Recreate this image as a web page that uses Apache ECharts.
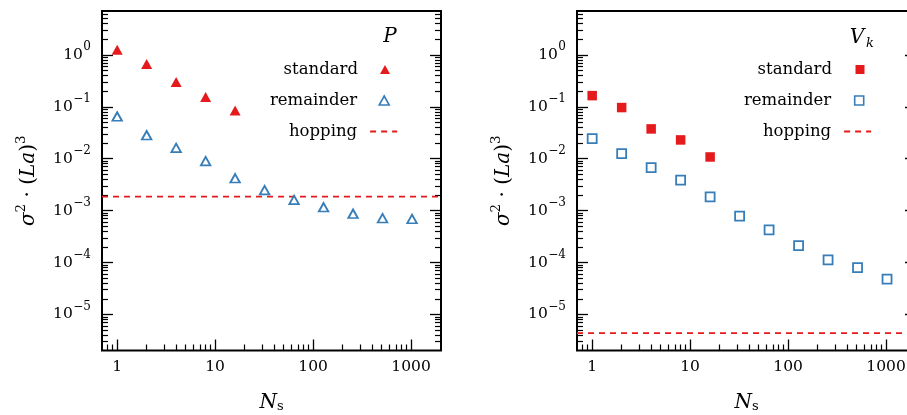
<!DOCTYPE html>
<html><head><meta charset="utf-8">
<script src="https://cdn.jsdelivr.net/npm/echarts@6/dist/echarts.min.js"></script>
<style>html,body{margin:0;padding:0;background:#fff}#c{width:907px;height:415px}</style>
</head><body><div id="c"></div>
<script>
// ---- data ----
const nsStandard = [1, 2, 4, 8, 16];
const nsRemainder = [1, 2, 4, 8, 16, 32, 64, 128, 256, 512, 1024];
const pStandard = [1.25, 0.67, 0.30, 0.155, 0.0845];
const pRemainder = [0.065, 0.0283, 0.0161, 0.00895, 0.0042, 0.00247, 0.00161, 0.00116, 0.00087, 0.000713, 0.00069];
const pHopping = 0.00186;
const vStandard = [0.164, 0.0966, 0.0375, 0.0230, 0.0108];
const vRemainder = [0.0244, 0.01255, 0.00674, 0.00385, 0.00184, 0.00078, 0.000425, 0.000212, 0.000112, 0.0000798, 0.0000477];
const vHopping = 4.35e-6;
const xTickValues = [1, 10, 100, 1000];
const xTickLabels = ['1', '10', '100', '1000'];
const yTickValues = [1, 0.1, 0.01, 0.001, 1e-4, 1e-5];
const yTickLabels = ['0', '−1', '−2', '−3', '−4', '−5'];
const legendNames = ['standard', 'remainder', 'hopping'];

const X_MIN = 0.7, X_MAX = 2023, Y_MIN = 2.02e-6, Y_MAX = 7.0;
const RED = '#e41a1c', BLUE = '#377eb8';
const FONT = 'DejaVu Serif';

function minorTicks(lo, hi) {
  const out = [];
  for (let d = -7; d <= 4; d++) for (let m = 2; m <= 9; m++) {
    const v = m * Math.pow(10, d);
    if (v > lo * 1.02 && v < hi * 0.98) out.push(v);
  }
  return out;
}
const xMinor = minorTicks(X_MIN, X_MAX);
const yMinor = minorTicks(Y_MIN, Y_MAX);

const grids = [
  {left: 102, top: 11, width: 339, height: 339.5},
  {left: 577, top: 11, width: 339, height: 339.5}
];

const xAxes = [], yAxes = [];
grids.forEach((g, gi) => {
  const base = {type: 'log', logBase: 10, min: X_MIN, max: X_MAX, gridIndex: gi, splitLine: {show: false}};
  xAxes.push(Object.assign({}, base, {
    position: 'bottom',
    axisLine: {show: false},
    axisTick: {show: true, inside: true, length: 11, customValues: xTickValues, lineStyle: {color: '#000', width: 1.3}},
    axisLabel: {show: true, customValues: xTickValues, margin: 8, color: '#000', fontFamily: FONT, fontSize: 15.5,
      formatter: v => xTickLabels[xTickValues.findIndex(t => Math.abs(t - v) / t < 1e-6)] || ''},
    name: '{i|N}{s|s}', nameLocation: 'middle', nameGap: 41, nameMoveOverlap: false,
    nameTextStyle: {rich: {
      i: {fontFamily: FONT, fontStyle: 'italic', fontSize: 20, color: '#000', lineHeight: 22},
      s: {fontFamily: FONT, fontSize: 13, color: '#000', verticalAlign: 'bottom', lineHeight: 14}
    }}
  }));
  xAxes.push(Object.assign({}, base, {
    position: 'bottom',
    axisLine: {show: false},
    axisTick: {show: true, inside: true, length: 6, customValues: xMinor, lineStyle: {color: '#000', width: 1.2}},
    axisLabel: {show: false}
  }));
  const ybase = {type: 'log', logBase: 10, min: Y_MIN, max: Y_MAX, gridIndex: gi, splitLine: {show: false}, axisLine: {show: false}};
  ['left', 'right'].forEach(pos => {
    yAxes.push(Object.assign({}, ybase, {
      position: pos,
      axisTick: {show: true, inside: true, length: 11, customValues: yTickValues, lineStyle: {color: '#000', width: 1.3}},
      axisLabel: {show: false},
      name: pos === 'left' ? '{i|σ}{s|2}{n| · (}{i|La}{n|)}{s|3}' : '',
      nameLocation: 'middle', nameGap: 58, nameMoveOverlap: false,
      nameTextStyle: {rich: {
        i: {fontFamily: FONT, fontStyle: 'italic', fontSize: 20, color: '#000', lineHeight: 30},
        n: {fontFamily: FONT, fontSize: 20, color: '#000', lineHeight: 30},
        s: {fontFamily: FONT, fontSize: 13.5, color: '#000', lineHeight: 14, verticalAlign: 'top'}
      }}
    }));
    yAxes.push(Object.assign({}, ybase, {
      position: pos,
      axisTick: {show: true, inside: true, length: 6, customValues: yMinor, lineStyle: {color: '#000', width: 1.2}},
      axisLabel: {show: false}
    }));
  });
});

function pairs(xs, ys) { return ys.map((y, i) => [xs[i], y]); }

const panels = [
  {std: pStandard, rem: pRemainder, hop: pHopping, sym: 'triangle', suffix: '', stdSize: [11, 10], remSize: [9.5, 8.5], legW: 10, legH: 9, iconX: 390, hopRight: 403},
  {std: vStandard, rem: vRemainder, hop: vHopping, sym: 'rect', suffix: ' (Vk)', stdSize: [9.5, 9.5], remSize: [9, 9], legW: 9, legH: 9, iconX: 865, hopRight: 877}
];
const series = [];
panels.forEach((p, gi) => {
  const xi = gi * 2, yi = gi * 4;
  series.push({type: 'scatter', name: legendNames[0] + p.suffix, xAxisIndex: xi, yAxisIndex: yi,
    symbol: p.sym, symbolSize: p.stdSize, itemStyle: {color: RED, opacity: 1},
    data: pairs(nsStandard, p.std)});
  series.push({type: 'scatter', name: legendNames[1] + p.suffix, xAxisIndex: xi, yAxisIndex: yi,
    symbol: p.sym, symbolSize: p.remSize, itemStyle: {color: '#fff', borderColor: BLUE, borderWidth: 1.8, opacity: 1},
    data: pairs(nsRemainder, p.rem)});
  series.push({type: 'line', name: legendNames[2] + p.suffix, xAxisIndex: xi, yAxisIndex: yi,
    symbol: 'none', showSymbol: false, color: RED, lineStyle: {color: RED, width: 1.8, type: [6, 5]},
    data: [[X_MIN, p.hop], [X_MAX, p.hop]], z: 1});
});

// legends: one per row so that each icon keeps its own size
const W = 907, TEXT_RIGHT_GAP = 11;
const legends = [];
const textStyleFor = gap => ({fontFamily: FONT, fontSize: 16.5, color: '#000', padding: [0, Math.max(0, gap - TEXT_RIGHT_GAP), 0, 0]});
panels.forEach((p, gi) => {
  const textRight = p.hopRight - 27 - 19;
  const rowTops = [56, 87, 118];
  [0, 1].forEach(r => {
    const iconRight = p.iconX + p.legW / 2;
    legends.push({
      orient: 'vertical', align: 'right', right: W - iconRight, top: rowTops[r],
      itemWidth: p.legW, itemHeight: p.legH, selectedMode: false,
      data: [r === 0
        ? {name: legendNames[0] + p.suffix, icon: p.sym}
        : {name: legendNames[1] + p.suffix, icon: p.sym, itemStyle: {borderWidth: 1.6, borderColor: BLUE, color: '#fff'}}],
      formatter: n => n.replace(' (Vk)', ''),
      textStyle: textStyleFor(iconRight - p.legW - textRight)
    });
  });
  legends.push({
    orient: 'vertical', align: 'right', right: W - p.hopRight, top: rowTops[2],
    itemWidth: 27, itemHeight: p.legH, selectedMode: false,
    data: [{name: legendNames[2] + p.suffix, itemStyle: {opacity: 0}, lineStyle: {width: 1.8, type: [6, 5], color: RED, opacity: 1}}],
    formatter: n => n.replace(' (Vk)', ''),
    textStyle: textStyleFor(19)
  });
});

const chart = echarts.init(document.getElementById('c'), null, {renderer: 'canvas'});
chart.setOption({
  animation: false,
  backgroundColor: '#fff',
  grid: grids.map(g => Object.assign({show: true, borderColor: '#000', borderWidth: 2, backgroundColor: 'transparent', outerBoundsMode: 'none'}, g)),
  xAxis: xAxes,
  yAxis: yAxes,
  legend: legends,
  series: series
});

// y tick labels (10^n), positioned through the axis scale
const BASE_SIZE = 15.5, SUP_SIZE = 12;
const mctx = document.createElement('canvas').getContext('2d');
function textWidth(t, size) { mctx.font = size + 'px "' + FONT + '"'; return mctx.measureText(t).width; }
const graphics = [
  {type: 'text', x: 390, y: 37, style: {text: 'P', align: 'center', verticalAlign: 'middle',
    fontFamily: FONT, fontStyle: 'italic', fontSize: 20, fill: '#000'}},
  {type: 'text', x: 857, y: 38, style: {text: 'V', align: 'center', verticalAlign: 'middle',
    fontFamily: FONT, fontStyle: 'italic', fontSize: 20, fill: '#000'}},
  {type: 'text', x: 866, y: 44, style: {text: 'k', align: 'left', verticalAlign: 'middle',
    fontFamily: FONT, fontStyle: 'italic', fontSize: 13, fill: '#000'}}
];
grids.forEach((g, gi) => {
  const xr = g.left - 11;
  yTickValues.forEach((v, i) => {
    const py = chart.convertToPixel({yAxisIndex: gi * 4}, v);
    const sw = textWidth(yTickLabels[i], SUP_SIZE);
    graphics.push({type: 'text', x: xr, y: py - 7.5, silent: true,
      style: {text: yTickLabels[i], align: 'right', verticalAlign: 'middle', fontFamily: FONT, fontSize: SUP_SIZE, fill: '#000'}});
    graphics.push({type: 'text', x: xr - sw - 0.5, y: py, silent: true,
      style: {text: '10', align: 'right', verticalAlign: 'middle', fontFamily: FONT, fontSize: BASE_SIZE, fill: '#000'}});
  });
});
chart.setOption({graphic: graphics});
</script></body></html>
